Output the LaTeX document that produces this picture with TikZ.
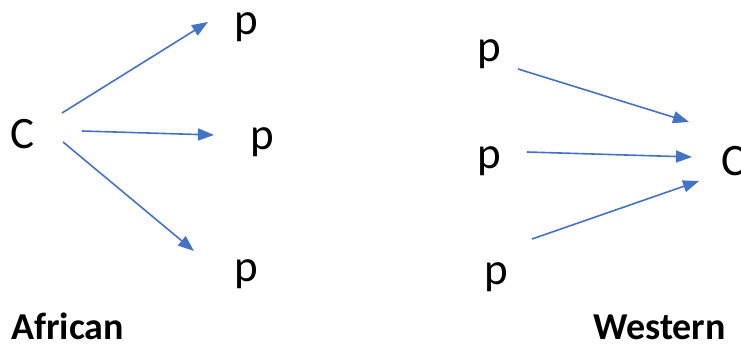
\documentclass[tikz,border=0pt]{standalone}
\usepackage{fontspec}
\setmainfont{Carlito}
\usetikzlibrary{arrows.meta}
\definecolor{arrowblue}{HTML}{4472C4}
\begin{document}
\begin{tikzpicture}[x=1pt,y=-1pt,
  lbl/.style={anchor=base west,inner sep=0pt,font=\fontsize{45}{50}\selectfont},
  titlelbl/.style={anchor=base west,inner sep=0pt,font=\fontsize{38}{42}\selectfont\bfseries},
  link/.style={draw=arrowblue,line width=1.6pt,-{Triangle[length=16pt,width=12pt]}}]
\useasboundingbox (0,0) rectangle (741,343);
\clip (0,0) rectangle (741,343);
% African
\node[lbl] (ac) at (10,148) {C};
\node[lbl] (ap1) at (234,34) {p};
\node[lbl] (ap2) at (250,149) {p};
\node[lbl] (ap3) at (234,281) {p};
\node[titlelbl] (af) at (11,339) {African};
\coordinate (a1s) at (62,113);
\coordinate (a1e) at (208,22);
\coordinate (a2s) at (82,131);
\coordinate (a2e) at (214,135);
\coordinate (a3s) at (63,142);
\coordinate (a3e) at (194,251);
\draw[link] (a1s) -- (a1e);
\draw[link] (a2s) -- (a2e);
\draw[link] (a3s) -- (a3e);
% Western
\node[lbl] (wp1) at (477,61) {p};
\node[lbl] (wp2) at (477,168) {p};
\node[lbl] (wp3) at (484,284) {p};
\node[lbl] (wc) at (721,175) {C};
\node[titlelbl] (we) at (593,339) {Western};
\coordinate (w1s) at (518,69);
\coordinate (w1e) at (689,122);
\coordinate (w2s) at (527,152);
\coordinate (w2e) at (692,157);
\coordinate (w3s) at (532,239);
\coordinate (w3e) at (699,181);
\draw[link] (w1s) -- (w1e);
\draw[link] (w2s) -- (w2e);
\draw[link] (w3s) -- (w3e);
\end{tikzpicture}
\end{document}
